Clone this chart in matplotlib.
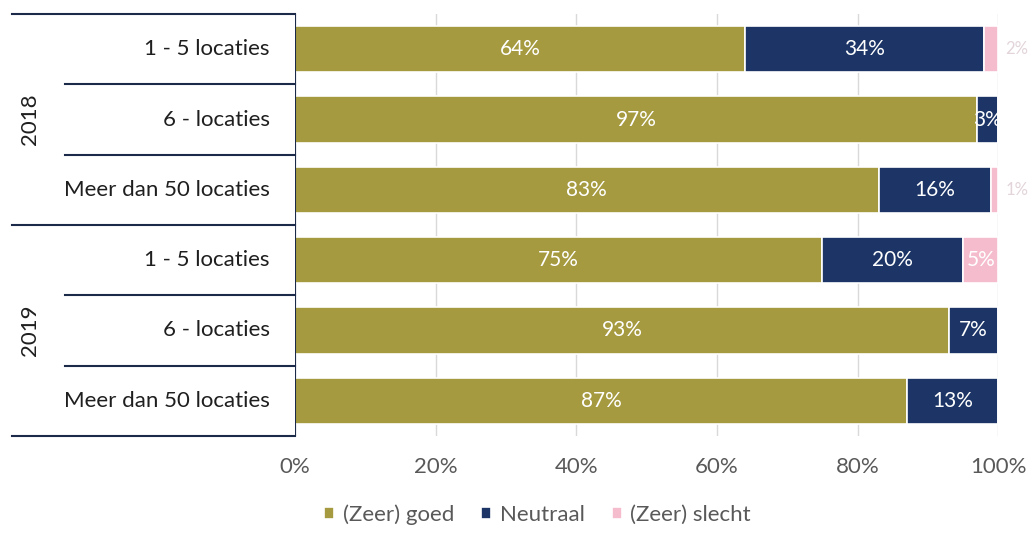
import matplotlib.pyplot as plt
import matplotlib.transforms as mtransforms
import numpy as np

plt.rcParams["font.family"] = ["Lato", "DejaVu Sans"]

years = ["2018", "2019"]
groups = ["1 - 5 locaties", "6 - locaties", "Meer dan 50 locaties"]
series = ["(Zeer) goed", "Neutraal", "(Zeer) slecht"]
goed = [64, 97, 83, 75, 93, 87]
neutraal = [34, 3, 16, 20, 7, 13]
slecht = [2, 0, 1, 5, 0, 0]

colors = ["#a59a3f", "#1c3566", "#f5bccd"]
text_gray = "#595959"
line_col = "#1c2a4a"


def plot() -> None:
    fig = plt.figure(figsize=(10.35, 5.33), dpi=100)
    ax = fig.add_axes([0.285, 0.182, 0.6795, 0.7917])

    n = len(goed)
    y = np.arange(n)
    values = [np.array(goed), np.array(neutraal), np.array(slecht)]
    left = np.zeros(n)
    for k, (vals, col, name) in enumerate(zip(values, colors, series)):
        ax.barh(y, vals, left=left, height=0.66, color=col, label=name,
                edgecolor="white", linewidth=1.2, zorder=2)
        for i in range(n):
            v = vals[i]
            if v <= 0:
                continue
            cx = left[i] + v / 2
            if k == 2 and v < 3:
                ax.text(left[i] + v + 1.0, y[i], f"{v}%", va="center", ha="left",
                        fontsize=12, color="#e2d4da")
            else:
                ax.text(cx, y[i], f"{v}%", va="center", ha="center",
                        fontsize=15, color="white")
        left = left + vals

    ax.set_xlim(0, 100)
    ax.set_ylim(n - 0.5, -0.5)
    ax.set_xticks(np.arange(0, 101, 20))
    ax.set_xticklabels([f"{t}%" for t in range(0, 101, 20)], fontsize=16, color=text_gray)
    ax.set_yticks([])
    ax.tick_params(axis="x", length=0, pad=15)
    ax.grid(axis="x", color="#d9d9d9", linewidth=1, zorder=0)
    for s in ax.spines.values():
        s.set_visible(False)
    ax.axvline(0, color=line_col, linewidth=1.5, zorder=3)

    # category axis with group lines
    trans = mtransforms.blended_transform_factory(fig.transFigure, ax.transData)
    x_ax = 0.285
    for b in range(n + 1):
        x0 = 12 / 1035 if b % 3 == 0 else 65 / 1035
        ax.plot([x0, x_ax], [b - 0.5, b - 0.5], color=line_col, linewidth=1.5,
                transform=trans, clip_on=False)
    for i in range(n):
        ax.text(270 / 1035, y[i], groups[i % 3], transform=trans, ha="right",
                va="center", fontsize=16, color="#1f1f1f")
    for j, yr in enumerate(years):
        ax.text(30 / 1035, 3 * j + 1, yr, transform=trans, ha="center",
                va="center", rotation=90, fontsize=16, color="#1f1f1f")

    ax.legend(loc="upper center", bbox_to_anchor=(0.345, -0.115), ncol=3,
              frameon=False, fontsize=16, handlelength=0.45, handleheight=0.45,
              handletextpad=0.4, columnspacing=1.2, labelcolor=text_gray)

    fig.savefig("out.png", dpi=100)


if __name__ == "__main__":
    plot()
